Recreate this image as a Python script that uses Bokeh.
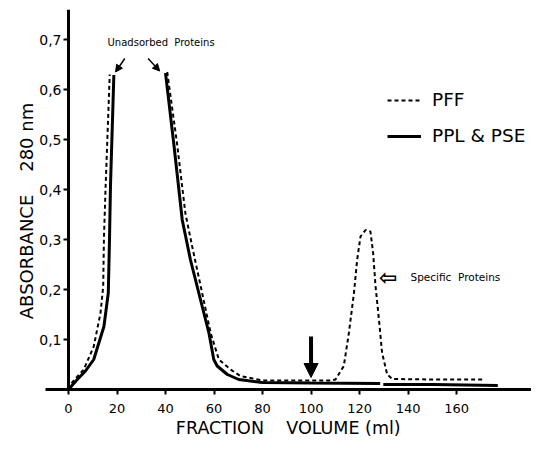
import math
import numpy as np
from bokeh.plotting import figure
from bokeh.models import (Range1d, FixedTicker, Label, Arrow, NormalHead,
                          Legend, LegendItem, Span)
from bokeh.core.properties import value
from bokeh.embed import file_html
from bokeh.resources import INLINE

nan = float("nan")

# Fraction volume (ml) vs absorbance at 280 nm
PFF_VOLUME = [0, 0.8, 3.5, 6.3, 10.4, 13.2, 14.3, 14.6, 15.3, 17.0, nan,
              40.7, 44.8, 48.2, 51.0, 55.1, 58.6, 62.0, 66.8, 70.9, 80, 100, 108,
              110.1, 113.5, 115.6, 117.7, 119.0, 120.4, 122.5, 124.5, 125.6, 126.6,
              128.0, 129.3, 131.4, 133.5, 150, 171]
PFF_ABS = [0, 0.01, 0.025, 0.04, 0.086, 0.153, 0.206, 0.30, 0.406, 0.63, nan,
           0.635, 0.49, 0.352, 0.286, 0.193, 0.113, 0.06, 0.04, 0.027, 0.018, 0.018, 0.018,
           0.02, 0.047, 0.113, 0.193, 0.259, 0.306, 0.319, 0.316, 0.273, 0.206,
           0.14, 0.073, 0.03, 0.021, 0.02, 0.02]

PPL_PSE_VOLUME = [0, 3.6, 7.0, 10.4, 14.6, 16.4, 16.9, 17.3, 18.7, nan,
                  40.0, 43.4, 46.9, 50.3, 54.4, 57.9, 59.9, 61.3, 65.5, 70.2, 80, 100, 128.5, nan,
                  129.8, 150, 177]
PPL_PSE_ABS = [0, 0.02, 0.037, 0.06, 0.126, 0.193, 0.30, 0.406, 0.629, nan,
               0.633, 0.492, 0.339, 0.259, 0.18, 0.113, 0.06, 0.047, 0.03, 0.02, 0.014, 0.013, 0.012, nan,
               0.010, 0.010, 0.008]

SERIES_LABELS = ["PFF", "PPL & PSE"]
X_TICKS = [0, 20, 40, 60, 80, 100, 120, 140, 160]
Y_TICKS = [0.1, 0.2, 0.3, 0.4, 0.5, 0.6, 0.7]
Y_TICK_LABELS = ["0,1", "0,2", "0,3", "0,4", "0,5", "0,6", "0,7"]

FONT = "DejaVu Sans"
NB = "\u00a0"
X_START, X_END = -28.04, 190.9
Y_END = 0.76

p = figure(width=531, height=440, output_backend="svg", toolbar_location=None,
           x_range=Range1d(X_START, X_END), y_range=Range1d(0, Y_END),
           y_axis_location=None,
           min_border_left=0, min_border_right=0, min_border_top=9,
           min_border_bottom=50)
p.grid.visible = False
p.outline_line_color = None
p.background_fill_color = "white"

# ---- x axis (library axis, line starts a little left of x = 0)
xax = p.xaxis[0]
xax.bounds = (-9.5, X_END)
xax.ticker = FixedTicker(ticks=X_TICKS)
xax.axis_line_width = 3
xax.major_tick_line_width = 2
xax.major_tick_in = 0
xax.major_tick_out = 5
xax.minor_tick_line_color = None
xax.major_label_standoff = 9
xax.major_label_text_font = FONT
xax.major_label_text_font_size = "13px"
xax.major_label_text_color = "black"
# leading no-break spaces move the centred title to the right, as in the original
xax.axis_label = NB * 8 + "FRACTION" + NB * 4 + "VOLUME (ml)"
xax.axis_label_text_font = FONT
xax.axis_label_text_font_size = "17.5px"
xax.axis_label_text_font_style = "normal"
xax.axis_label_text_color = "black"
xax.axis_label_standoff = 2

# ---- y axis drawn at x = 0 inside the frame
p.add_layout(Span(location=0, dimension="height", line_color="black", line_width=3))
p.ray(x=[0] * len(Y_TICKS), y=Y_TICKS, length=5, length_units="screen",
      angle=math.pi, line_color="black", line_width=2)
p.text(x=[0] * len(Y_TICKS), y=Y_TICKS, text=Y_TICK_LABELS, x_offset=-7,
       text_align="right", text_baseline="middle", text_color="black",
       text_font=value(FONT), text_font_size="14px")
p.add_layout(Label(x=0, y=0.357, x_offset=-42,
                   text="ABSORBANCE" + NB * 4 + "280 nm",
                   angle=math.pi / 2, text_align="center", text_baseline="middle",
                   text_font=FONT, text_font_size="18px", text_color="black"))

# ---- data
r_pff = p.line(np.array(PFF_VOLUME), np.array(PFF_ABS), line_color="black",
               line_width=2, line_dash="4 3")
r_pp = p.line(np.array(PPL_PSE_VOLUME), np.array(PPL_PSE_ABS), line_color="black",
              line_width=3)

legend = Legend(items=[LegendItem(label=SERIES_LABELS[0], renderers=[r_pff]),
                       LegendItem(label=SERIES_LABELS[1], renderers=[r_pp])],
                location=(387, 243), glyph_width=34, glyph_height=20,
                label_height=20, spacing=15, padding=0, margin=0,
                border_line_color=None, background_fill_alpha=0,
                label_text_font=FONT, label_text_font_size="18.5px",
                label_text_color="black", label_standoff=11)
p.add_layout(legend)

# ---- annotations
p.add_layout(Label(x=16.1, y=0.695, text="Unadsorbed" + NB * 2 + "Proteins",
                   text_baseline="middle", text_font=FONT, text_font_size="10px",
                   text_color="black"))
p.add_layout(Arrow(x_start=23.2, y_start=0.662, x_end=19.4, y_end=0.635,
                   line_width=1.5, line_color="black",
                   end=NormalHead(size=7, fill_color="black", line_color="black")))
p.add_layout(Arrow(x_start=32.8, y_start=0.662, x_end=37.6, y_end=0.637,
                   line_width=1.5, line_color="black",
                   end=NormalHead(size=7, fill_color="black", line_color="black")))

p.add_layout(Label(x=131.8, y=0.225, text="\u21e6", text_align="center",
                   text_baseline="middle", text_font=FONT, text_font_size="22px",
                   text_font_style="bold", text_color="black"))
p.add_layout(Label(x=141, y=0.225, text="Specific" + NB * 2 + "Proteins",
                   text_baseline="middle", text_font=FONT, text_font_size="10.5px",
                   text_color="black"))

# sample application mark
p.add_layout(Arrow(x_start=100, y_start=0.106, x_end=100, y_end=0.024,
                   line_width=4, line_color="black",
                   end=NormalHead(size=14, fill_color="black", line_color="black")))

open("out.html", "w").write(file_html(p, INLINE))
